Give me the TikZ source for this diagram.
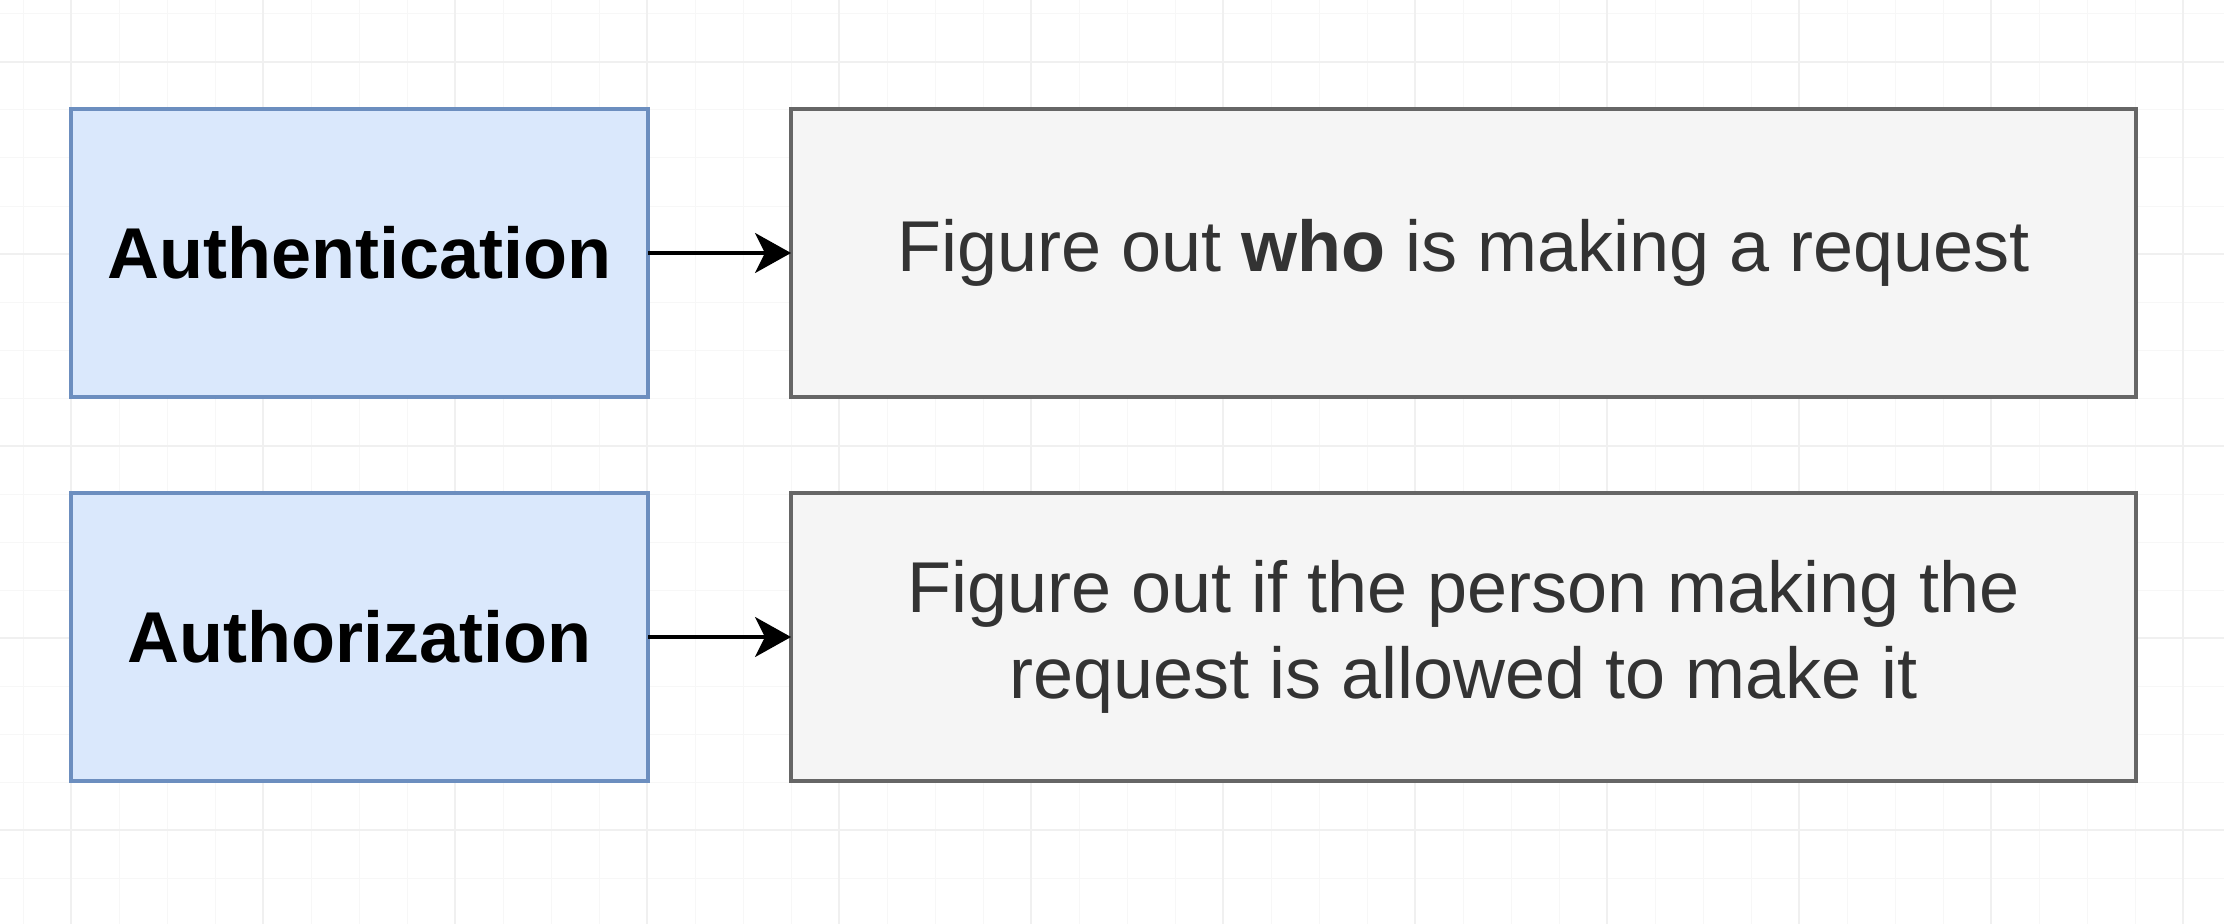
\documentclass[tikz,border=0pt]{standalone}
\usepackage{fontspec}
\setmainfont{Liberation Sans}
\usepackage{tikz}
\usetikzlibrary{positioning, arrows.meta}
\definecolor{authfill}{HTML}{DAE8FC}
\definecolor{authline}{HTML}{6C8EBF}
\definecolor{descfill}{HTML}{F5F5F5}
\definecolor{descline}{HTML}{666666}
\definecolor{desctext}{HTML}{333333}
\tikzstyle{concept} = [rectangle, minimum width=144.25pt, minimum height=72pt, text centered, draw=authline, fill=authfill, line width=0.9pt, outer sep=0pt, font=\fontsize{18pt}{21.5pt}\selectfont\bfseries]
\tikzstyle{meaning} = [rectangle, minimum width=336.25pt, minimum height=72pt, text centered, align=center, draw=descline, fill=descfill, line width=0.9pt, outer sep=0pt, text=desctext, font=\fontsize{18pt}{21.5pt}\selectfont]
\tikzstyle{arrow} = [line width=0.85pt,-{Stealth[length=9pt,width=10pt,inset=2.5pt]}]
\begin{document}
\begin{tikzpicture}[x=0.25pt, y=0.25pt, node distance=24pt]
\useasboundingbox (0,0) rectangle (2224,923);
\fill[white] (0,0) rectangle (2224,923);
% background grid
\begin{scope}
\clip (0,0) rectangle (2224,923);
\draw[black!3, line width=0.25pt, step=12pt, shift={(23,45)}] (-48,-96) grid (2300,1000);
\draw[black!6, line width=0.3pt, step=48pt, shift={(71,93)}] (-192,-192) grid (2300,1000);
\end{scope}
\node (auth) [concept] at (359.5,670) {Authentication};
\node (who) [meaning, right=35.75pt of auth] {Figure out \textbf{who} is making a request};
\node (authz) [concept, below=of auth] {Authorization};
\node (allowed) [meaning, right=35.75pt of authz] {Figure out if the person making the\\request is allowed to make it};
\draw [arrow] (auth) -- (who);
\draw [arrow] (authz) -- (allowed);
\end{tikzpicture}
\end{document}
